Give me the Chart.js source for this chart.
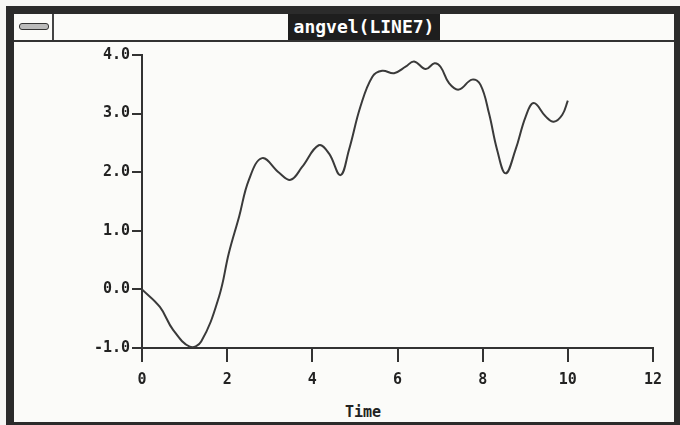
<!DOCTYPE html>
<html>
<head>
<meta charset="utf-8">
<script src="https://cdn.jsdelivr.net/npm/chart.js@4.4.1/dist/chart.umd.min.js"></script>
<style>
  html, body { margin: 0; padding: 0; background: #f7f7f5; }
  #wrap { position: relative; width: 680px; height: 425px; overflow: hidden; }
  #frame { position: absolute; left: 6px; top: 6px; width: 660px; height: 408px;
           border-left: 8px solid #2b2b2b; border-top: 8px solid #2b2b2b;
           border-right: 6px solid #2b2b2b; border-bottom: 3px solid #2b2b2b;
           background: #fbfbf9; }
  #titlebar { position: absolute; left: 0; top: 0; width: 660px; height: 26px;
              border-bottom: 2px solid #333; }
  #sysbox { position: absolute; left: 0; top: 0; width: 38px; height: 26px; border-right: 2px solid #444; }
  #sysdash { position: absolute; left: 5px; top: 9px; width: 28px; height: 5px;
             background: #bbb; border: 1px solid #333; border-radius: 3px; }
  #title { position: absolute; left: 274px; top: 0; width: 152px; height: 26px;
           background: #1e1e1e; color: #fff; text-align: center;
           font: bold 18px "DejaVu Sans Mono", monospace; line-height: 26px; }
  #xtitle { position: absolute; left: 330px; top: 402px; width: 66px; text-align: center;
            font: bold 15px "DejaVu Sans Mono", monospace; color: #222; line-height: 20px; }
  canvas { position: absolute; left: 0; top: 0; }
</style>
</head>
<body>
<div id="wrap">
  <div id="frame">
    <div id="titlebar">
      <div id="sysbox"><div id="sysdash"></div></div>
      <div id="title">angvel(LINE7)</div>
    </div>
  </div>
  <div id="xtitle">Time</div>
  <canvas id="c" width="680" height="425"></canvas>
</div>
<script>
const timeValues = [0, 0.42, 0.73, 1.13, 1.39, 1.81, 2.04, 2.28, 2.51, 2.82, 3.22, 3.49, 3.76, 4.15, 4.39, 4.66, 4.86, 5.13, 5.41, 5.64, 5.92, 6.19, 6.39, 6.66, 6.87, 7.01, 7.21, 7.44, 7.75, 7.95, 8.15, 8.34, 8.54, 8.77, 9.01, 9.20, 9.48, 9.67, 9.87, 10.0];
const angvel = [0, -0.30, -0.69, -0.98, -0.89, -0.12, 0.62, 1.24, 1.87, 2.24, 1.99, 1.87, 2.09, 2.46, 2.32, 1.95, 2.38, 3.12, 3.63, 3.73, 3.69, 3.80, 3.89, 3.76, 3.86, 3.80, 3.52, 3.41, 3.58, 3.49, 3.00, 2.38, 1.98, 2.38, 2.95, 3.18, 2.95, 2.86, 2.98, 3.22];
const xTicks = [0, 2, 4, 6, 8, 10, 12];
const yTicks = [-1.0, 0.0, 1.0, 2.0, 3.0, 4.0];

const points = timeValues.map((t, i) => ({ x: t, y: angvel[i] }));
const tickFont = { family: "DejaVu Sans Mono", size: 15, weight: "bold" };

new Chart(document.getElementById('c'), {
  type: 'line',
  data: {
    datasets: [{
      data: points,
      borderColor: '#3a3a3a',
      borderWidth: 2,
      pointRadius: 0,
      fill: false,
      tension: 0.4
    }]
  },
  options: {
    responsive: false,
    animation: false,
    devicePixelRatio: 1,
    layout: { padding: { top: 55, right: 27, left: 0, bottom: 0 } },
    plugins: { legend: { display: false }, tooltip: { enabled: false }, title: { display: false } },
    scales: {
      x: {
        type: 'linear',
        min: xTicks[0], max: xTicks[xTicks.length - 1],
        afterBuildTicks: s => { s.ticks = xTicks.map(v => ({ value: v })); },
        afterFit: s => { s.height = 77; },
        border: { display: true, color: '#333', width: 2 },
        grid: { drawOnChartArea: false, drawTicks: true, tickLength: 14, color: '#333', tickColor: '#333', lineWidth: 2 },
        ticks: { color: '#222', font: tickFont, padding: 9, maxRotation: 0, callback: v => String(v) }
      },
      y: {
        type: 'linear',
        min: yTicks[0], max: yTicks[yTicks.length - 1],
        afterBuildTicks: s => { s.ticks = yTicks.map(v => ({ value: v })); },
        afterFit: s => { s.width = 142; },
        border: { display: true, color: '#333', width: 2 },
        grid: { drawOnChartArea: false, drawTicks: true, tickLength: 10, color: '#333', tickColor: '#333', lineWidth: 2 },
        ticks: { color: '#222', font: tickFont, padding: 2, callback: v => Number(v).toFixed(1) }
      }
    }
  }
});
</script>
</body>
</html>
